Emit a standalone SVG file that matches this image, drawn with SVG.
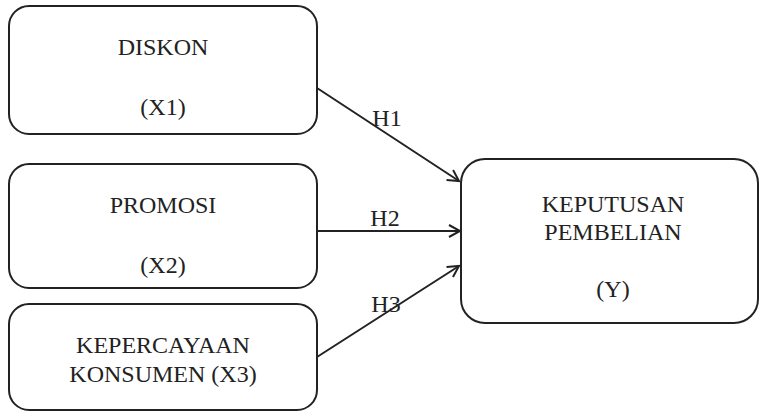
<svg xmlns="http://www.w3.org/2000/svg" width="759" height="412" viewBox="0 0 759 412">
<style>
.box{fill:#fff;stroke:#222;stroke-width:2}
.t{font-family:"Liberation Serif","Times New Roman",serif;font-size:24px;fill:#222;text-anchor:middle}
.c{stroke:#222;stroke-width:2;fill:none;marker-end:url(#ah)}
</style>
<defs>
<marker id="ah" markerWidth="14" markerHeight="14" refX="12" refY="7" orient="auto" markerUnits="userSpaceOnUse">
<path d="M1,1 L12,7 L1,13" fill="none" stroke="#222" stroke-width="2"/>
</marker>
</defs>
<rect width="759" height="412" fill="#fff"/>
<g id="x1">
<rect class="box" x="9" y="6" width="308" height="128" rx="20"/>
<text class="t" x="163" y="55">DISKON</text>
<text class="t" x="163" y="115">(X1)</text>
</g>
<g id="x2">
<rect class="box" x="9" y="164" width="308" height="124" rx="20"/>
<text class="t" x="163" y="213">PROMOSI</text>
<text class="t" x="163" y="273">(X2)</text>
</g>
<g id="x3">
<rect class="box" x="9" y="304" width="308" height="106" rx="20"/>
<text class="t" x="163" y="353">KEPERCAYAAN</text>
<text class="t" x="163" y="382">KONSUMEN (X3)</text>
</g>
<g id="y">
<rect class="box" x="461" y="159" width="297" height="164" rx="24"/>
<text class="t" x="613" y="212">KEPUTUSAN</text>
<text class="t" x="613" y="240">PEMBELIAN</text>
<text class="t" x="613" y="297">(Y)</text>
</g>
<g id="connectors">
<line class="c" x1="317" y1="88" x2="459" y2="181"/>
<line class="c" x1="317" y1="231" x2="460" y2="231"/>
<line class="c" x1="317" y1="357" x2="459" y2="266"/>
<text class="t" x="387" y="126">H1</text>
<text class="t" x="385" y="226">H2</text>
<text class="t" x="386" y="312">H3</text>
</g>
</svg>
